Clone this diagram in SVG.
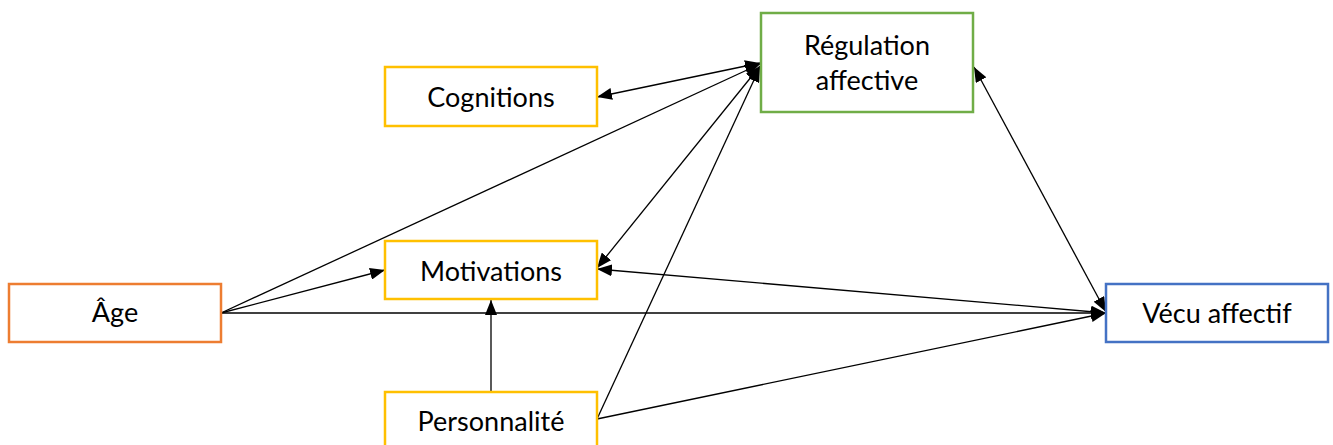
<svg xmlns="http://www.w3.org/2000/svg" width="1333" height="445" viewBox="0 0 1333 445">
<defs>
<marker id="ah" viewBox="0 0 15 12" refX="15" refY="6" markerWidth="15" markerHeight="12" markerUnits="userSpaceOnUse" orient="auto-start-reverse">
<path d="M0,0 L15,6 L0,12 Z" fill="#000"/>
</marker>
<style>
.box{fill:#fff;stroke-width:2.5}
.y{stroke:#FFC000}
.o{stroke:#ED7D31}
.g{stroke:#70AD47}
.b{stroke:#4472C4}
text{font-family:Lato,"Open Sans",sans-serif;font-size:27px;fill:#000;text-anchor:middle}
.c{stroke:#000;stroke-width:1.3;fill:none}
.s{marker-end:url(#ah)}
.d{marker-start:url(#ah);marker-end:url(#ah)}
</style>
</defs>
<rect width="1333" height="445" fill="#fff"/>
<g id="connectors">
<line class="c d" x1="597" y1="97" x2="760" y2="63"/>
<line class="c s" x1="221" y1="313" x2="760" y2="64"/>
<line class="c s" x1="221" y1="313" x2="385" y2="270"/>
<line class="c s" x1="221" y1="313" x2="1106" y2="313"/>
<line class="c d" x1="597" y1="268" x2="760" y2="66"/>
<line class="c d" x1="597" y1="269" x2="1106" y2="313"/>
<line class="c s" x1="491" y1="392" x2="491" y2="300"/>
<line class="c s" x1="597" y1="419" x2="760" y2="67"/>
<line class="c s" x1="597" y1="419" x2="1106" y2="313"/>
<line class="c d" x1="974" y1="67" x2="1106" y2="312"/>
</g>
<g id="cognitions">
<rect class="box y" x="385" y="67" width="212" height="59"/>
<text x="491" y="107">Cognitions</text>
</g>
<g id="regulation">
<rect class="box g" x="761" y="13" width="212" height="99"/>
<text x="867" y="55">Régulation</text>
<text x="867" y="90">affective</text>
</g>
<g id="motivations">
<rect class="box y" x="385" y="241" width="212" height="58"/>
<text x="491" y="281">Motivations</text>
</g>
<g id="age">
<rect class="box o" x="9" y="284" width="212" height="58"/>
<text x="115" y="322">Âge</text>
</g>
<g id="personnalite">
<rect class="box y" x="385" y="392" width="212" height="60"/>
<text x="491" y="431">Personnalité</text>
</g>
<g id="vecu">
<rect class="box b" x="1106" y="284" width="222" height="58"/>
<text x="1217" y="323">Vécu affectif</text>
</g>
</svg>
